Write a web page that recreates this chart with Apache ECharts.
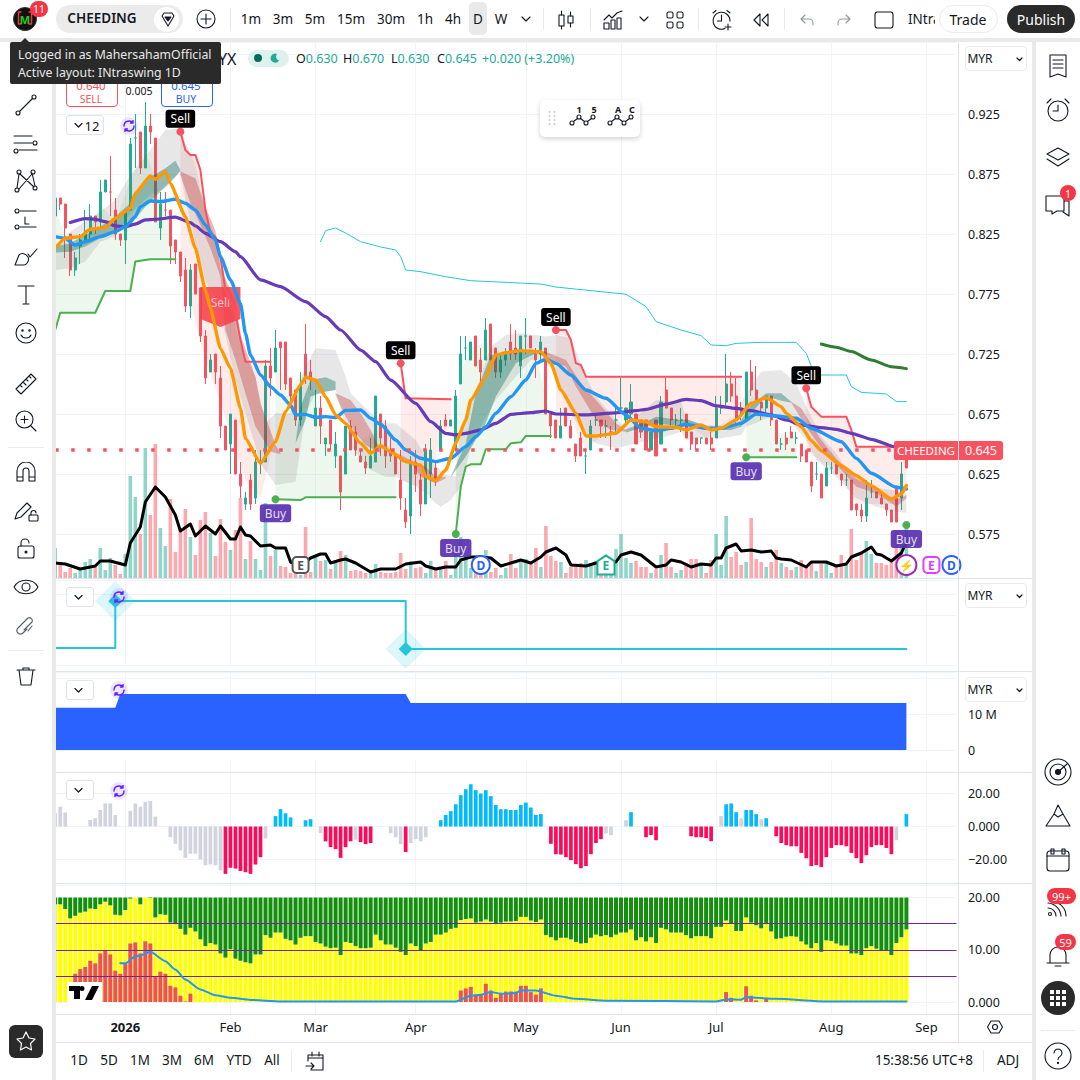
<!DOCTYPE html>
<html><head><meta charset="utf-8">
<script src="https://cdn.jsdelivr.net/npm/echarts@6/dist/echarts.min.js"></script>
<style>
html,body{margin:0;padding:0;width:1080px;height:1080px;overflow:hidden;background:#fff;font-family:'Noto Sans',sans-serif;color:#131722}
#c{position:absolute;left:0;top:0;width:1080px;height:1080px}
#ui{position:absolute;left:0;top:0;width:1080px;height:1080px;pointer-events:none}
#ui>*{position:absolute}
#ui svg{display:block}
.t{white-space:nowrap;line-height:1;transform:translate(-50%,-50%)}
.box{box-sizing:border-box}
</style></head><body><div id="c"></div><div id="ui"></div>
<script>
// ---------- DATA ----------
const tickIndex=[14,35,52,72,94,113,132,155,174];
const tickLabel=['2026','Feb','Mar','Apr','May','Jun','Jul','Aug','Sep'];
const slotCount=181;
const lastPrice=0.645;
// open, high, low, close
const ohlc=[[.84,.855,.84,.855],[.855,.855,.845,.85],[.85,.85,.805,.83],[.825,.825,.79,.795],[.795,.81,.79,.805],[.815,.825,.80,.82],[.82,.845,.82,.825],[.825,.85,.82,.84],[.84,.84,.825,.835],[.835,.87,.83,.86],
[.86,.87,.86,.87],[.86,.89,.84,.86],[.845,.855,.82,.825],[.825,.825,.815,.82],[.82,.845,.80,.845],[.845,.905,.845,.90],[.905,.925,.88,.905],[.91,.91,.875,.88],[.88,.935,.88,.915],[.915,.925,.90,.91],
[.905,.905,.835,.835],[.83,.86,.82,.85],[.845,.86,.84,.845],[.845,.845,.80,.815],[.82,.82,.80,.81],[.81,.81,.785,.79],[.795,.805,.76,.765],[.765,.80,.755,.795],[.80,.80,.775,.775],[.78,.78,.735,.74],
[.74,.745,.70,.705],[.71,.725,.71,.72],[.725,.725,.70,.71],[.705,.715,.655,.665],[.665,.665,.645,.645],[.65,.675,.625,.675],[.67,.67,.625,.625],[.625,.635,.605,.615],[.60,.61,.595,.605],[.62,.625,.595,.60],
[.605,.645,.60,.635],[.635,.645,.625,.635],[.635,.72,.635,.715],[.715,.73,.69,.705],[.71,.745,.71,.73],[.735,.735,.695,.73],[.735,.735,.695,.70],[.705,.705,.68,.69],[.695,.695,.665,.67],[.67,.71,.665,.70],
[.725,.75,.70,.705],[.71,.72,.695,.705],[.665,.695,.665,.68],[.68,.69,.65,.665],[.65,.655,.64,.655],[.67,.67,.645,.65],[.64,.66,.63,.65],[.64,.64,.595,.61],[.625,.665,.625,.665],[.665,.67,.645,.645],
[.66,.665,.64,.645],[.64,.645,.635,.635],[.635,.64,.625,.63],[.63,.655,.63,.64],[.635,.69,.635,.69],[.675,.675,.64,.655],[.665,.67,.63,.64],[.645,.655,.635,.64],[.64,.64,.625,.625],[.62,.645,.595,.605],
[.595,.605,.58,.585],[.59,.64,.575,.635],[.635,.645,.61,.625],[.62,.625,.59,.60],[.60,.65,.60,.645],[.625,.655,.605,.645],[.63,.635,.615,.62],[.645,.67,.645,.665],[.67,.675,.665,.665],[.665,.67,.665,.67],
[.645,.695,.645,.69],[.70,.74,.70,.725],[.73,.74,.72,.73],[.72,.735,.72,.735],[.74,.74,.715,.715],[.72,.73,.70,.71],[.72,.755,.72,.745],[.75,.75,.72,.72],[.73,.73,.705,.71],[.71,.725,.705,.72],
[.72,.73,.715,.725],[.735,.75,.72,.725],[.73,.745,.72,.725],[.715,.74,.705,.74],[.74,.755,.725,.74],[.74,.74,.73,.73],[.725,.73,.705,.72],[.725,.74,.72,.735],[.73,.73,.675,.675],[.675,.675,.655,.665],
[.67,.67,.655,.655],[.655,.68,.655,.665],[.68,.68,.665,.665],[.665,.67,.655,.655],[.65,.65,.635,.64],[.655,.66,.64,.64],[.64,.645,.625,.64],[.645,.67,.645,.665],[.67,.675,.665,.67],[.67,.67,.655,.665],
[.665,.67,.655,.665],[.66,.665,.645,.66],[.67,.68,.66,.67],[.68,.705,.675,.68],[.67,.68,.665,.68],[.675,.70,.67,.685],[.675,.675,.65,.65],[.67,.67,.655,.66],[.67,.67,.645,.645],[.645,.66,.645,.66],
[.67,.67,.64,.64],[.65,.69,.65,.685],[.695,.705,.68,.68],[.68,.68,.665,.67],[.67,.675,.665,.67],[.67,.68,.66,.67],[.675,.675,.655,.655],[.66,.66,.645,.65],[.655,.655,.645,.65],[.655,.655,.65,.655],
[.655,.655,.65,.65],[.655,.66,.645,.65],[.655,.69,.655,.68],[.68,.69,.675,.68],[.685,.725,.68,.70],[.70,.71,.685,.69],[.69,.705,.665,.67],[.68,.685,.67,.675],[.67,.71,.67,.71],[.71,.72,.69,.695],
[.695,.715,.685,.685],[.685,.685,.67,.68],[.68,.69,.675,.69],[.69,.69,.665,.67],[.67,.67,.65,.65],[.65,.655,.645,.65],[.655,.66,.645,.65],[.66,.665,.655,.655],[.655,.66,.65,.655],[.65,.65,.635,.64],
[.645,.645,.635,.635],[.635,.635,.61,.615],[.625,.635,.62,.625],[.625,.625,.605,.605],[.615,.635,.615,.63],[.63,.635,.625,.63],[.635,.635,.625,.625],[.625,.625,.615,.62],[.62,.625,.615,.62],[.62,.62,.595,.595],
[.60,.60,.59,.595],[.595,.60,.585,.59],[.59,.62,.585,.605],[.61,.62,.605,.61],[.61,.61,.605,.605],[.605,.61,.60,.60],[.60,.60,.59,.595],[.595,.595,.585,.585],[.615,.615,.585,.585],[.605,.635,.595,.625],[.63,.645,.63,.645]];
const lastWick=[.645,.67];
const volume=[30,14,6,10,5,10,16,19,11,30,8,20,13,4,24,102,81,44,130,63,134,50,32,79,26,48,69,41,23,58,66,45,22,59,36,28,48,80,19,37,19,8,75,22,28,12,11,5,6,3,51,6,21,17,18,9,15,27,23,7,8,7,5,8,14,
6,5,5,6,25,9,17,10,11,5,17,10,11,17,3,30,41,21,10,11,11,28,6,10,3,10,24,10,19,19,15,30,11,52,22,17,16,5,11,11,15,18,12,17,13,5,8,29,44,20,15,17,11,11,5,9,23,35,11,5,
8,15,19,19,14,5,18,44,13,62,21,26,13,16,60,19,16,11,16,28,15,11,8,11,18,11,15,7,14,17,5,11,23,13,49,18,24,37,24,15,15,13,16,46,35,56];
const blackLine=[[0,15],[2,14],[5,9],[8,12],[9,17],[11,17],[14,13],[15,35],[17,51],[18,76],[20,91],[22,81],[24,63],[25,47],[27,54],[28,42],[30,52],[32,44],[33,52],[35,39],[36,39],[37,51],[38,43],[39,42],[41,32],[43,33],[44,30],[46,30],[47,16],[49,12],[51,20],[53,24],[54,24],[55,15],[57,18],[58,19],[59,17],[60,15],[63,6],[65,9],[68,9],[70,14],[73,16],[74,12],[76,9],[78,11],[80,11],[81,18],[83,21],[85,21],[87,20],[89,12],[91,15],[93,18],[95,15],[97,21],[98,26],[100,30],[102,23],[103,13],[106,12],[108,15],[112,16],[113,23],[115,26],[117,23],[119,15],[120,11],[122,13],[123,18],[125,16],[127,11],[129,14],[131,13],[132,20],[133,20],[134,30],[136,34],[137,27],[139,28],[141,26],[143,27],[144,20],[145,19],[147,18],[150,11],[151,16],[154,16],[156,12],[158,14],[159,21],[161,25],[163,31],[164,24],[165,23],[167,17],[169,25],[170,36]];
const purpleLine=[[3,.8345],[6,.8378],[8,.8373],[10,.8353],[12,.8317],[14,.8311],[16,.8333],[18,.8367],[20,.8373],[24,.839],[27,.8345],[28,.8317],[30,.8256],[33,.8186],[36,.8103],[37,.8061],[41,.7867],[45,.7811],[50,.7686],[54,.7561],[57,.745],[61,.7283],[64,.7186],[67,.7033],[72,.6839],[75,.6686],[78,.6589],[80,.6575],[82,.6589],[85,.6617],[88,.6672],[91,.6747],[95,.6761],[98,.6775],[100,.675],[106,.6742],[112,.676],[116,.6778],[118,.6789],[122,.6833],[126,.6872],[129,.6861],[132,.6817],[136,.6797],[139,.6778],[143,.6742],[146,.67],[149,.6658],[153,.6636],[156,.6622],[159,.6589],[163,.6539],[168,.6472],[170,.645]];
const blueLine=[[0,.8228],[2,.8214],[4,.8158],[6,.8186],[9,.8228],[12,.827],[14,.8311],[16,.8394],[17,.8478],[19,.8525],[21,.852],[24,.8539],[26,.8506],[28,.845],[30,.8325],[32,.82],[33,.8061],[35,.7867],[37,.7672],[38,.7422],[39,.7242],[41,.7075],[43,.6978],[45,.6908],[47,.6825],[48,.6742],[50,.6747],[52,.6722],[54,.6728],[56,.672],[58,.678],[61,.6783],[63,.6714],[65,.6665],[68,.6533],[70,.645],[73,.6381],[76,.6353],[79,.6381],[82,.6478],[84,.6561],[86,.6644],[88,.6756],[91,.6894],[94,.7033],[96,.7172],[98,.7206],[100,.7172],[103,.7075],[106,.695],[110,.6881],[114,.6742],[117,.6631],[120,.6611],[123,.6631],[126,.6664],[130,.6631],[133,.6631],[137,.6672],[140,.675],[144,.6733],[148,.6714],[151,.6631],[157,.6519],[160,.638],[163,.6256],[168,.6139],[170,.6125]];
const orangeLine=[[0,.8131],[2,.8214],[5,.8228],[7,.8289],[10,.8303],[12,.8381],[15,.8464],[16,.8589],[19,.8734],[20,.8706],[22,.877],[23,.8672],[26,.8394],[28,.8131],[30,.7783],[31,.7631],[33,.7297],[35,.7131],[37,.6797],[38,.6547],[41,.6339],[44,.652],[46,.6769],[49,.6992],[50,.7056],[52,.7033],[54,.6894],[56,.6742],[58,.6672],[61,.6506],[63,.6422],[65,.6486],[67,.6436],[70,.6353],[73,.6325],[74,.6228],[76,.6195],[78,.6283],[80,.6506],[82,.67],[83,.6867],[86,.7061],[88,.7242],[90,.7261],[93,.7278],[97,.7269],[99,.7172],[101,.695],[104,.6756],[106,.6567],[108,.6567],[112,.6589],[115,.67],[118,.6686],[120,.6644],[124,.6639],[126,.6617],[129,.6658],[131,.6617],[133,.6631],[136,.67],[139,.6839],[142,.6886],[145,.6811],[146,.6756],[149,.6644],[151,.6528],[153,.6444],[157,.6319],[160,.6236],[163,.6153],[167,.6042],[169,.6083],[170,.6153]];
const cyanLine=[[53,.8186],[54,.8278],[56,.83],[58,.8258],[61,.8186],[65,.8142],[68,.8117],[69,.8061],[70,.795],[73,.7936],[78,.7894],[83,.7861],[97,.7833],[100,.7808],[114,.7748],[118,.7645],[120,.752],[125,.745],[129,.7403],[131,.7325],[134,.7319],[136,.7339],[141,.7347],[148,.7347],[150,.7256],[151,.715],[152,.7075],[158,.7075],[159,.6978],[161,.693],[166,.6917],[168,.6853],[170,.6853]];
const darkGreenLine=[[153,.7333],[156,.7306],[159,.727],[163,.72],[167,.7144],[170,.7128]];
const stGreen1=[[0,.745],[1,.7594],[8,.7594],[10,.7775],[15,.7775],[16,.802],[19,.804],[24,.804]];
const stGreen2=[[44,.604],[49,.6033],[50,.6056],[68,.6056]];
const stGreen3=[[80,.575],[81,.6144],[82,.6311],[83,.6331],[85,.6331],[86,.6456],[90,.6456],[91,.6506],[93,.6514],[94,.6567],[99,.6567]];
const stGreen4=[[138,.6389],[148,.6389]];
const greenTop1=[[0,.845],[3,.815],[6,.82],[9,.85],[12,.835],[15,.87],[18,.895],[20,.87],[23,.83],[24,.81]];
const greenTop2=[[44,.72],[47,.695],[50,.715],[53,.675],[56,.645],[58,.645],[60,.65],[64,.66],[68,.64]];
const greenTop3=[[80,.665],[81,.71],[83,.73],[86,.735],[90,.72],[93,.73],[96,.725],[99,.67]];
const greenTop4=[[138,.675],[139,.69],[141,.685],[144,.66],[148,.655]];
const stRed1=[[25,.9103],[26,.895],[27,.8909],[28,.8909],[29,.8783],[30,.845],[31,.8256],[32,.8228],[33,.806],[34,.7783],[36,.759],[37,.7367],[38,.7186],[43,.7186]];
const stRed2=[[69,.7172],[70,.6881],[79,.6872]];
const stRed3=[[100,.745],[102,.745],[103,.7367],[104,.7172],[105,.7158],[106,.7061],[137,.7061]];
const stRed4=[[150,.6964],[151,.6811],[153,.6728],[158,.6728],[159,.6617],[160,.6478],[167,.6478],[170,.6478]];
const redLow1=[[25,.80],[30,.72],[35,.66],[38,.62],[41,.605],[43,.64]];
const redLow2=[[69,.62],[72,.615],[75,.625],[77,.655],[79,.665]];
const redLow3=[[100,.66],[103,.67],[106,.645],[110,.66],[114,.675],[120,.655],[125,.67],[130,.655],[133,.665],[137,.68]];
const redLow4=[[150,.645],[153,.635],[156,.63],[160,.60],[165,.60],[168,.60],[170,.615]];
const grayHigh=[[0,.8145],[3,.827],[6,.8353],[9,.8436],[12,.8533],[15,.8742],[18,.8895],[22,.9117],[25,.9131],[26,.9006],[28,.8839],[30,.8422],[32,.8228],[34,.7895],[35,.7659],[37,.7311],[40,.7061],[42,.6672],[44,.6756],[47,.6756],[50,.7145],[52,.7298],[56,.7284],[58,.7061],[59,.6923],[63,.6756],[66,.6672],[68,.6672],[72,.6534],[74,.6395],[78,.6242],[80,.6228],[81,.6645],[84,.695],[87,.7311],[90,.7409],[93,.7423],[98,.7395],[100,.7409],[103,.7381],[106,.7061],[108,.6895],[112,.67],[114,.6645],[116,.6728],[120,.6867],[125,.6853],[126,.6714],[129,.6658],[133,.6658],[136,.6756],[138,.6922],[141,.7103],[145,.7117],[148,.7006],[150,.6811],[153,.6561],[156,.6422],[159,.6228],[163,.6144],[167,.6117],[170,.6089]];
const grayLow=[[0,.795],[3,.7964],[6,.802],[9,.8186],[12,.8228],[15,.8422],[19,.8575],[22,.8631],[25,.877],[26,.8534],[28,.8173],[30,.7867],[33,.7589],[36,.7034],[38,.6756],[41,.6339],[44,.6159],[48,.6186],[49,.6478],[50,.6756],[52,.6923],[56,.695],[59,.6478],[63,.6284],[66,.6228],[68,.6228],[72,.6145],[74,.6089],[76,.6006],[77,.5978],[79,.6034],[81,.6145],[83,.6478],[85,.6645],[88,.6867],[92,.7061],[95,.72],[98,.72],[100,.7061],[103,.6756],[106,.6562],[108,.6506],[112,.6464],[116,.6506],[122,.6562],[125,.6603],[126,.6533],[129,.6547],[133,.6547],[137,.6575],[138,.6644],[143,.6728],[146,.6728],[150,.6533],[152,.6367],[156,.6228],[160,.6047],[164,.5978],[168,.5936],[170,.5928]];
const tealHigh1=[[0,.8145],[3,.8173],[6,.8242],[9,.8311],[12,.8395],[15,.8506],[18,.87],[22,.8798],[24,.8861],[25,.8784]];
const tealLow1=[[0,.8095],[3,.8103],[6,.8145],[9,.8214],[12,.8256],[15,.8325],[18,.8478],[22,.8645],[24,.8728],[25,.8778]];
const tealHigh2=[[45,.6423],[48,.6506],[49,.6811],[51,.7034],[54,.7056],[56,.702]];
const tealLow2=[[45,.6423],[48,.6506],[50,.67],[51,.6895],[54,.6936],[56,.695]];
const tealHigh3=[[79,.6228],[82,.6506],[84,.6923],[87,.7242],[90,.725],[94,.7278],[98,.7269]];
const tealLow3=[[79,.6222],[82,.6395],[86,.6672],[88,.6895],[90,.7034],[92,.7172],[96,.7256],[98,.7228]];
const tealHigh4=[[114,.6622],[118,.6686],[120,.6728],[125,.67],[126,.6706],[129,.6667],[131,.6622],[135,.6644],[137,.67],[139,.6825],[142,.6922],[145,.6922],[147,.6853]];
const tealLow4=[[114,.6595],[118,.6645],[120,.6672],[125,.6645],[126,.6644],[129,.6622],[131,.6617],[135,.6617],[137,.6644],[139,.6756],[142,.69],[145,.6861],[147,.6844]];
const redHigh1=[[25,.877],[28,.8714],[30,.8478],[32,.8278],[33,.7967],[36,.7689],[37,.7411],[40,.7058],[41,.6836],[43,.6611],[44,.6492],[45,.6423]];
const redLow1b=[[25,.8742],[27,.8506],[29,.8325],[31,.8131],[33,.7895],[34,.745],[36,.72],[38,.6922],[40,.6645],[42,.6506],[43,.6436],[45,.6417]];
const redHigh2=[[56,.6923],[59,.6867],[61,.6756],[63,.6617],[65,.6451]];
const redLow2b=[[56,.691],[58,.6728],[60,.6589],[62,.6492],[65,.6423]];
const redHigh3=[[67,.645],[71,.6367],[74,.6311],[76,.6228],[78,.6228]];
const redLow3b=[[67,.6428],[71,.6345],[73,.6228],[76,.6172],[78,.6214]];
const redHigh4=[[98,.7269],[102,.72],[105,.7006],[108,.6867],[112,.6672],[114,.6617]];
const redLow4b=[[98,.72],[102,.7145],[104,.6978],[106,.6839],[108,.67],[111,.6617],[114,.6603]];
const redHigh5=[[147,.6853],[149,.6797],[153,.6533],[156,.638],[160,.6214],[164,.613],[168,.6033],[170,.6075]];
const redLow5b=[[147,.6844],[150,.6644],[153,.6464],[157,.6283],[160,.6144],[164,.6089],[168,.5978],[170,.6047]];
const sellMarks=[[25,.9103],[69,.7172],[100,.745],[150,.6964]];
const buyMarks=[[44,.604],[80,.575],[138,.6389],[170,.5825]];
const bigSellMark=[[33,.7642]];
const earningsGrey=[[49,13]];
const earningsGreen=[[110,13]];
const dividendBlue=[[85,13],[179,13]];
const earningsPink=[[175,13]];
const splitPurple=[[170,13]];
const stepLine=[[0,.34],[12,.34],[12,1.28],[70,1.28],[70,.32],[170,.32]];
const stepDiamonds=[[12,1.28],[70,.32]];
const blueArea=[[0,11.75],[12,11.75],[13,15.55],[70,15.55],[71,13.05],[170,13.05]];
const histGrey=[[0,8],[1,12],[2,8.5],[7,4],[8,5],[9,10],[10,14],[11,14],[12,7],[15,9.5],[16,14],[17,12],[18,15],[19,15.5],[20,6],[23,-6.5],[24,-10.5],[25,-14.5],[26,-19],[27,-16.5],[28,-16.5],[29,-20],[30,-23.5],[31,-23],[32,-23.5],[33,-26.5],[42,-7.3],[53,-4],[60,-8],[67,-4],[68,-6.5],[69,-10.7],[71,-10],[72,-7.7],[73,-9],[74,-6.5],[110,-4.2],[111,-5.2],[114,3.8],[133,6.3],[137,5],[141,4.4],[168,-8.3]];
const histBlue=[[44,6.3],[45,10.5],[46,8],[47,5.5],[50,3.8],[51,4.4],[77,3.8],[78,7],[79,9.3],[80,13.5],[81,19],[82,22.6],[83,25.6],[84,22],[85,20],[86,22],[87,18.4],[88,13],[89,10.5],[90,10.5],[91,10],[92,10],[93,13],[94,14.5],[95,11.5],[96,7],[97,7.5],[115,8.7],[134,13.5],[135,14],[136,8.7],[138,10],[139,10],[140,7.5],[142,5],[170,7.5]];
const histPink=[[34,-28.7],[35,-25],[36,-25.5],[37,-27],[38,-27.7],[39,-28.7],[40,-23],[41,-18.6],[54,-9],[55,-12.5],[56,-13.7],[57,-19],[58,-12.5],[59,-9],[61,-9.5],[62,-10.7],[63,-10],[70,-15.5],[99,-10.5],[100,-16.8],[101,-17],[102,-18.6],[103,-20.4],[104,-22.8],[105,-25.3],[106,-24],[107,-16.8],[108,-10],[109,-7.7],[118,-6.5],[119,-5.2],[120,-8.3],[127,-5.9],[128,-6.5],[129,-6.5],[130,-7],[131,-8.9],[144,-5.9],[145,-10],[146,-11.3],[147,-12],[148,-12],[149,-16],[150,-19.2],[151,-24],[152,-23.4],[153,-24.6],[154,-18.6],[155,-13],[156,-11.3],[157,-11.3],[158,-12],[159,-16],[160,-19.2],[161,-22.2],[162,-17.4],[163,-12.5],[164,-11.3],[165,-11.3],[166,-13],[167,-16.8]];
const stackTop=20;
const yellowBars=[18.7,18.7,17.8,16.0,16.5,17.1,17.3,17.9,17.8,18.7,19.2,18.5,16.7,16.6,17.6,19.8,20.0,18.7,20.0,19.9,16.2,16.8,16.7,15.2,14.9,14.0,12.9,14.2,13.5,12.0,10.7,11.3,11.0,9.3,8.5,10.1,8.3,7.9,7.6,7.4,9.1,9.1,12.8,12.3,13.3,13.3,12.1,11.8,11.0,12.3,12.6,12.6,11.5,11.2,10.6,10.3,10.4,9.0,11.5,11.3,10.7,10.3,10.3,10.4,12.9,11.8,11.0,11.0,10.4,9.6,9.0,11.2,10.7,9.9,11.2,11.5,12.9,12.9,13.3,14.0,14.2,15.7,15.9,16.0,15.2,15.4,15.8,15.4,14.9,15.2,15.4,15.4,15.5,16.3,16.3,15.6,15.3,15.8,12.8,12.4,11.8,12.3,12.3,12.0,11.5,11.2,11.3,12.3,12.9,12.6,12.8,12.4,12.9,13.3,13.3,13.9,11.8,12.4,11.6,12.4,11.3,14.2,13.9,13.3,13.3,13.3,12.8,12.2,12.6,12.6,12.6,12.2,14.4,14.4,15.6,15.0,13.6,13.6,16.2,15.2,14.7,14.1,14.9,13.5,12.1,12.2,12.5,12.6,12.5,11.6,11.0,10.3,11.3,9.6,11.8,11.7,11.2,10.8,10.8,9.3,9.3,9.0,10.3,10.7,10.2,9.9,9.9,9.0,11.3,12.4,13.9];
const redBars=[[4,5.4],[5,6.3],[6,6.7],[7,7.9],[8,7.4],[9,9.3],[10,9.9],[11,9.1],[12,6.0],[13,5.4],[14,7.4],[15,11.2],[16,11.4],[17,9.3],[18,11.6],[19,11.2],[20,4.9],[21,5.8],[22,5.4],[23,3.1],[24,2.8],[25,1.2],[26,.1],[27,1.6],[81,2.2],[82,2.6],[83,2.9],[84,1.4],[85,1.5],[86,3.5],[87,2.2],[88,.8],[89,1.6],[90,2.0],[91,2.0],[92,2.0],[93,3.1],[94,3.1],[95,1.9],[96,1.4],[97,2.6],[134,1.9],[135,.8],[138,3.0],[139,1.2],[140,.3],[142,.6]];
const stackBlueLine=[[13,7.4],[14,7.4],[16,8.7],[17,8.9],[19,9.6],[22,7.8],[24,6.2],[26,4.3],[29,2.4],[32,1.3],[35,.8],[39,.4],[45,.1],[80,.1],[83,1.2],[85,1.4],[87,1.9],[89,1.6],[92,1.7],[93,2.2],[96,2.2],[100,1.2],[104,.6],[110,.25],[132,.1],[134,.5],[137,.45],[138,.9],[144,.6],[154,.1],[170,.1]];
const stackLevels=[5,10,15];

// ---------- CHART ----------
const categories=Array.from({length:slotCount},(_,i)=>'d'+i);
const UP='#22ab94',DOWN='#f7525f';
const FONT="'Noto Sans',sans-serif";
const isTick=i=>tickIndex.includes(i);
const GL='#f0f3fa';
const L=55.2,W=180*5.007;
const panes=[[42,594],[580,665],[672,750],[760.5,892.5],[885,1002],[1002,1014]];
const grid=panes.map(p=>({left:L,width:W,top:p[0],height:p[1]-p[0],containLabel:false}));
const xAxis=panes.map((p,k)=>({type:'category',gridIndex:k,data:categories,boundaryGap:false,axisLine:{show:false},axisTick:{show:false},
 splitLine:{show:true,interval:i=>isTick(i),lineStyle:{color:GL,width:1}},
 axisLabel:k===5?{show:true,interval:i=>isTick(i),margin:6,color:'#131722',fontFamily:FONT,fontSize:13,showMinLabel:true,showMaxLabel:true,hideOverlap:false,
   formatter:(v,i)=>{const n=tickIndex.indexOf(i);return n<0?'':(n===0?'{b|'+tickLabel[n]+'}':tickLabel[n]);},rich:{b:{fontWeight:700,fontSize:13,fontFamily:FONT,color:'#131722'}}}:{show:false}}));
const yBase={position:'right',axisLine:{show:false},axisTick:{show:false},scale:false};
const lab=(f)=>({show:true,margin:11.5,color:'#131722',fontFamily:FONT,fontSize:12.5,formatter:f});
const split={show:true,lineStyle:{color:GL,width:1},showMinLine:false,showMaxLine:false};
const yAxis=[
 {...yBase,type:'value',gridIndex:0,min:.525,max:.985,interval:.05,axisLabel:lab(v=>(v<.53||v>.97)?'':v.toFixed(3)),splitLine:{show:true,lineStyle:{color:GL}}},
 {...yBase,type:'value',gridIndex:0,min:-16,max:536,show:false},
 {...yBase,type:'value',gridIndex:1,min:0,max:1.7,interval:1,axisLabel:{show:false},splitLine:{show:true,lineStyle:{color:GL}}},
 {...yBase,type:'value',gridIndex:2,min:0,max:21.67,interval:10,axisLabel:lab(v=>v===0?'0':(v===10?'10 M':'')),splitLine:{show:true,lineStyle:{color:GL}}},
 {...yBase,type:'value',gridIndex:3,min:-40,max:40,interval:20,axisLabel:lab(v=>v===0?'0.000':(Math.abs(v)===20?(v<0?'\u2212':'')+'20.00':'')),splitLine:split},
 {...yBase,type:'value',gridIndex:4,min:0,max:22.4,interval:10,axisLabel:lab(v=>v===0?'0.000':(v<=20?v.toFixed(2):'')),splitLine:{show:true,lineStyle:{color:GL}}},
 {...yBase,type:'value',gridIndex:5,min:0,max:1,show:false}
];
function poly(hi,lo,fill,z){const pts=[...hi,...lo.slice().reverse()];
 return {type:'custom',xAxisIndex:0,yAxisIndex:0,z,silent:true,clip:true,data:pts,encode:{x:0,y:1},animation:false,
  renderItem:(p,api)=>p.dataIndex===0?{type:'polygon',shape:{points:pts.map(d=>api.coord(d))},style:{fill}}:null};}
function line(data,color,width,z,smooth,ax,ay){return {type:'line',xAxisIndex:ax||0,yAxisIndex:ay||0,data,showSymbol:false,symbol:'none',smooth:smooth||false,smoothMonotone:'x',z,silent:true,animation:false,lineStyle:{color,width,cap:'round',join:'round'}};}
function badge(data,text,color,symbol,size,fill,txt){return {type:'scatter',xAxisIndex:0,yAxisIndex:1,data,symbol,symbolSize:size,z:9,silent:true,animation:false,clip:false,itemStyle:{color:fill,borderColor:color,borderWidth:2,opacity:1},
  label:{show:true,position:'inside',formatter:text,color:txt||color,fontFamily:FONT,fontWeight:700,fontSize:12}};}
const hex='path://M10 0 L20 6 L20 20 L0 20 L0 6 Z';
const candles=ohlc.map((r,i)=>{const v=[r[0],r[3],r[2],r[1]];return i===ohlc.length-1?{value:v,itemStyle:{color:DOWN,borderColor:DOWN}}:v;});
const volData=volume.map((v,i)=>({value:v,itemStyle:{color:(ohlc[i][3]>=ohlc[i][0]?'rgba(34,171,148,.5)':'rgba(247,82,95,.5)')}}));
const GF='rgba(76,175,80,.1)',RF='rgba(244,67,54,.1)',GR='rgba(110,115,115,.17)',TE='rgba(0,105,92,.36)',RE='rgba(190,40,40,.33)';
const series=[
 {type:'bar',xAxisIndex:0,yAxisIndex:1,data:volData,barWidth:3.6,z:1,silent:true,animation:false},
 {type:'candlestick',xAxisIndex:0,yAxisIndex:0,data:candles,barWidth:2.6,z:2,silent:true,animation:false,
  itemStyle:{color:UP,color0:DOWN,borderColor:UP,borderColor0:DOWN,borderWidth:1},
  markLine:{silent:true,symbol:'none',animation:false,precision:4,z:8,label:{show:false},lineStyle:{color:DOWN,width:3.5,type:[3.5,12.5],opacity:1},data:[{yAxis:lastPrice}]}},
 {type:'candlestick',xAxisIndex:0,yAxisIndex:0,data:[[170,lastWick[0],lastWick[0],lastWick[0],lastWick[1]]],barWidth:1,z:2,silent:true,animation:false,itemStyle:{color:UP,color0:UP,borderColor:UP,borderColor0:UP,borderWidth:1}},
 poly(greenTop1,stGreen1,GF,3),poly(greenTop2,stGreen2,GF,3),poly(greenTop3,stGreen3,GF,3),poly(greenTop4,stGreen4,GF,3),
 poly(stRed1,redLow1,RF,3),poly(stRed2,redLow2,RF,3),poly(stRed3,redLow3,RF,3),poly(stRed4,redLow4,RF,3),
 poly(grayHigh,grayLow,GR,3),
 poly(tealHigh1,tealLow1,TE,3),poly(tealHigh2,tealLow2,TE,3),poly(tealHigh3,tealLow3,TE,3),poly(tealHigh4,tealLow4,TE,3),
 poly(redHigh1,redLow1b,RE,3),poly(redHigh2,redLow2b,RE,3),poly(redHigh3,redLow3b,RE,3),poly(redHigh4,redLow4b,RE,3),poly(redHigh5,redLow5b,RE,3),
 {type:'scatter',xAxisIndex:0,yAxisIndex:0,data:bigSellMark,symbol:'path://M0 0 H40 V32 L20 40 L0 32 Z',symbolSize:[40,40],z:4,silent:true,animation:false,itemStyle:{color:'rgba(247,60,70,.85)',opacity:1},
   label:{show:true,position:'inside',offset:[0,-4],formatter:'Sell',color:'rgba(255,255,255,.65)',fontFamily:FONT,fontSize:12}},
 line(stGreen1,'#4caf50',2,5),line(stGreen2,'#4caf50',2,5),line(stGreen3,'#4caf50',2,5),line(stGreen4,'#4caf50',2,5),
 line(stRed1,'#f7525f',2,5),line(stRed2,'#f7525f',2,5),line(stRed3,'#f7525f',2,5),line(stRed4,'#f7525f',2,5),
 line(cyanLine,'#26c6da',1,6),line(darkGreenLine,'#2e7d32',3,6,.2),
 line(purpleLine,'#673ab7',3.2,6,.2),line(blueLine,'#2196f3',3.4,7,.2),line(orangeLine,'#ff9800',3.4,7,.15),
 line(blackLine,'#000000',3,8,false,0,1),
 {type:'scatter',xAxisIndex:0,yAxisIndex:0,data:sellMarks,symbol:'circle',symbolSize:8,z:10,silent:true,animation:false,itemStyle:{color:'#f7525f',opacity:1},
   label:{show:true,position:'top',distance:0,formatter:'Sell',color:'#fff',backgroundColor:'#000',padding:[3,5,3,5],borderRadius:3,fontFamily:FONT,fontSize:12}},
 {type:'scatter',xAxisIndex:0,yAxisIndex:0,data:buyMarks,symbol:'circle',symbolSize:8,z:10,silent:true,animation:false,itemStyle:{color:'#4caf50',opacity:1},
   label:{show:true,position:'bottom',distance:1,formatter:'Buy',color:'rgba(255,255,255,.85)',backgroundColor:'rgba(89,48,176,.92)',padding:[3,5,3,5],borderRadius:3,fontFamily:FONT,fontSize:12}},
 badge(earningsGrey,'E','#555555','roundRect',[16,16],'#fff'),
 badge(earningsGreen,'E','#22ab94',hex,[17,19],'#fff'),
 badge(dividendBlue,'D','#2962ff','circle',18,'#fff'),
 badge(earningsPink,'E','#e040fb','roundRect',[16,16],'#fff'),
 badge(splitPurple,'\u26A1','#9c27b0','circle',20,'#fff'),
 // step pane
 {type:'scatter',xAxisIndex:1,yAxisIndex:2,data:stepDiamonds,symbol:'diamond',symbolSize:40,z:2,silent:true,animation:false,clip:false,itemStyle:{color:'rgba(38,198,218,.16)',opacity:1}},
 line(stepLine,'#26c6da',2,3,false,1,2),
 {type:'scatter',xAxisIndex:1,yAxisIndex:2,data:stepDiamonds,symbol:'diamond',symbolSize:14,z:4,silent:true,animation:false,clip:false,itemStyle:{color:'#26c6da',opacity:1}},
 // blue area pane
 {type:'line',xAxisIndex:2,yAxisIndex:3,data:blueArea,showSymbol:false,symbol:'none',lineStyle:{width:0},areaStyle:{color:'#2962ff',opacity:1},z:2,silent:true,animation:false},
 // histogram pane
 {type:'bar',xAxisIndex:3,yAxisIndex:4,data:histGrey,barWidth:3.7,barGap:'-100%',itemStyle:{color:'#d1d4dc'},z:2,silent:true,animation:false},
 {type:'bar',xAxisIndex:3,yAxisIndex:4,data:histBlue,barWidth:3.7,barGap:'-100%',itemStyle:{color:'#00bcff'},z:2,silent:true,animation:false},
 {type:'bar',xAxisIndex:3,yAxisIndex:4,data:histPink,barWidth:3.7,barGap:'-100%',itemStyle:{color:'#ff0a5a'},z:2,silent:true,animation:false},
 // stacked pane: yellow from zero, green stacked from the yellow top up to 20, red over the yellow
 {type:'bar',xAxisIndex:4,yAxisIndex:5,stack:'oscillator',data:yellowBars,barWidth:4,itemStyle:{color:'#ffff00'},z:3,silent:true,animation:false},
 {type:'bar',xAxisIndex:4,yAxisIndex:5,stack:'oscillator',data:yellowBars.map(v=>stackTop-v),barWidth:4,itemStyle:{color:'#128f0b'},z:3,silent:true,animation:false},
 {type:'bar',xAxisIndex:4,yAxisIndex:5,data:redBars,barWidth:4,barGap:'-100%',itemStyle:{color:'#ef5350'},z:4,silent:true,animation:false,
  markLine:{silent:true,symbol:'none',animation:false,z:5,label:{show:false},lineStyle:{color:'#7b1fa2',width:1,type:'solid'},data:stackLevels.map(v=>({yAxis:v}))}},
 line(stackBlueLine,'#2196f3',2,6,.2,4,5)
];
const chart=echarts.init(document.getElementById('c'),null,{renderer:'svg',width:1080,height:1080});
chart.setOption({animation:false,backgroundColor:'#ffffff',grid,xAxis,yAxis,series,tooltip:{show:false}});

// ---------- PLATFORM CHROME ----------
const ui=document.getElementById('ui');
function T(x,y,s,o){o=o||{};const e=document.createElement('div');e.className='t';e.textContent=s;e.style.left=x+'px';e.style.top=y+'px';e.style.fontSize=(o.size||13.5)+'px';e.style.color=o.color||'#131722';if(o.weight)e.style.fontWeight=o.weight;if(o.left){e.style.transform='translate(0,-50%)';}ui.appendChild(e);return e;}
function B(x,y,w,h,css){const e=document.createElement('div');e.className='box';e.style.cssText=`left:${x}px;top:${y}px;width:${w}px;height:${h}px;${css||''}`;ui.appendChild(e);return e;}
function S(cx,cy,w,h,inner,sw,col){const e=document.createElement('div');e.style.cssText=`left:${cx-w/2}px;top:${cy-h/2}px;width:${w}px;height:${h}px`;
 e.innerHTML=`<svg xmlns="http://www.w3.org/2000/svg" width="${w}" height="${h}" viewBox="0 0 ${w} ${h}" fill="none" stroke="${col||'#131722'}" stroke-width="${sw||1.1}" stroke-linecap="round" stroke-linejoin="round">${inner}</svg>`;ui.appendChild(e);}
const BG='#e9e9ea';
// frames
B(0,0,1080,38,'background:#fff');B(0,38,1080,4,`background:${BG}`);
B(0,42,52,1038,'background:#fff');B(52,38,4,1042,`background:${BG}`);
B(1036,42,44,1038,'background:#fff');B(1032,38,4,1042,`background:${BG}`);
B(958,42,74,1000,'background:transparent;border-left:1px solid #e0e3eb');
B(56,1042,976,38,'background:#fff;border-top:1px solid #e0e3eb');
[578,670.5,772,883,1014].forEach(y=>B(56,y,976,1,'background:#e0e3eb'));
// top bar
B(13,7,24,24,'border-radius:50%;background:#111;border:1px solid #333');
S(25,18,16,14,'<path d="M4 1H1.500V13H4M12 1h2.500V13H12" stroke="#f23645" stroke-width="1.5"/>');
T(25,18.5,'M',{size:11,weight:700,color:'#1fd11f'});
B(30,1,18,16,'border-radius:9px;background:#f23645');T(39,9,'11',{size:10.5,color:'#fff'});
B(56,5,127,28,'border-radius:14px;background:#ebebeb');T(102,19,'CHEEDING',{size:13.5,weight:600});
B(154,7,25,25,'border-radius:50%;background:#fff');
S(168,19.5,18,16,'<path d="M3 4 L5 1 H13 L15 4 L9 14 Z"/><path d="M6 5h6L9 9Z" fill="#131722"/>');
S(206,19,20,20,'<circle cx="10" cy="10" r="9"/><path d="M10 5v10M5 10h10"/>');
B(230,8,1,22,`background:${BG}`);
B(469,2,18,33,`border-radius:5px;background:${BG}`);
[[251,'1m'],[283,'3m'],[315,'5m'],[351,'15m'],[391,'30m'],[425,'1h'],[453,'4h'],[478,'D'],[501,'W']].forEach(a=>T(a[0],19.5,a[1],{size:13.5}));
S(526,19,10,6,'<path d="M1 1l4 4 4-4"/>');
B(543,8,1,22,`background:${BG}`);
S(566,19.5,18,20,'<rect x="2" y="5" width="5" height="11"/><path d="M4.500 1v4M4.500 16v3"/><rect x="11" y="6" width="5" height="7"/><path d="M13.500 2v4M13.500 13v4"/>');
B(590,8,1,22,`background:${BG}`);
S(613,19.5,20,20,'<path d="M1 10l5-5 3 3 5-5 5-2"/><rect x="1" y="13" width="5" height="6"/><rect x="8" y="10" width="4" height="9"/><rect x="14" y="8" width="4" height="11"/>');
S(644,19,10,6,'<path d="M1 1l4 4 4-4"/>');
S(675,19.5,18,18,'<rect x="1" y="1" width="6" height="6" rx="1.500"/><rect x="11" y="1" width="6" height="6" rx="1.500"/><rect x="1" y="11" width="6" height="6" rx="1.500"/><rect x="11" y="11" width="6" height="6" rx="1.500"/>');
B(698,8,1,22,`background:${BG}`);
S(722,19.5,22,22,'<path d="M14 19.500A8.500 8.500 0 1 1 19 12"/><path d="M10.500 6v6h-4M2 4l3-2.500M19 4l-3-2.500M17 15v6M14 18h6"/>');
S(761,19.5,16,14,'<path d="M7 1L1 7l6 6ZM15 1L9 7l6 6Z"/>');
B(784,8,1,22,`background:${BG}`);
S(807,20,14,12,'<path d="M5 1L1 5l4 4M1 5h8a4 4 0 0 1 4 4v2"/>',1.1,'#9598a1');
S(844,20,14,12,'<path d="M9 1l4 4-4 4M13 5H5a4 4 0 0 0-4 4v2"/>',1.1,'#9598a1');
S(884,19.5,20,18,'<rect x="1" y="1" width="18" height="16" rx="2.500"/>');
const it=T(908,19.5,'INtra',{size:13.5,left:true});it.style.width='27px';it.style.overflow='hidden';
B(939,5,59,28,'border-radius:14px;background:#fff;border:1px solid #ebebeb');T(968,19.5,'Trade',{size:14});
B(1007,5,68,28,'border-radius:14px;background:#2a2a2a');T(1041,19.5,'Publish',{size:14,color:'#fff'});
// legend row
T(218,58.5,'YX',{size:16,left:true});
B(248,50,41,17,'border-radius:9px;background:#dff1ec');
B(254,54,8,8,'border-radius:50%;background:#006d5b');
S(275,58,10,10,'<path d="M7 1a4.500 4.500 0 1 0 2 6.500A4 4 0 0 1 7 1Z" fill="#22ab94" stroke="none"/>');
[[296,'O','0.630'],[343,'H','0.670'],[391,'L','0.630'],[437,'C','0.645']].forEach(a=>{const e=T(a[0],58.5,a[1],{size:12.5,left:true,color:'#131722'});const s=document.createElement('span');s.textContent=a[2];s.style.color='#22ab94';e.appendChild(s);});
T(482,58.5,'+0.020 (+3.20%)',{size:12.5,left:true,color:'#22ab94'});
// order buttons
B(66,80,52,27,'border:1px solid #f7525f;border-radius:4px;background:#fff');T(91,85.5,'0.640',{size:11.5,color:'#f7525f'});T(91,99,'SELL',{size:10.5,color:'#f7525f'});
T(139,90.5,'0.005',{size:10.5});
B(161,80,52,27,'border:1px solid #2962ff;border-radius:4px;background:#fff');T(186,85.5,'0.645',{size:11.5,color:'#2962ff'});T(186,99,'BUY',{size:10.5,color:'#2962ff'});
// login tooltip
B(10,42,211,42,'background:#2a2a2a;border-radius:2px');
T(18,55,'Logged in as MahersahamOfficial',{size:12.3,left:true,color:'#e8e8e8'});
T(18,73,'Active layout: INtraswing 1D',{size:12.3,left:true,color:'#e8e8e8'});
S(25,40,10,5,'<path d="M0 5L5 0l5 5Z" fill="#2a2a2a" stroke="none"/>');
// pane controls
function chev(x,y,w,txt){B(x,y,w,20,'background:#fff;border:1px solid #e0e3eb;border-radius:3px');S(x+12,y+10,9,5,'<path d="M1 .5l3.500 3.500L8 .5"/>',1.2);if(txt)T(x+26,y+10.5,txt,{size:13});}
chev(66,115,38,'12');chev(66,587,28);chev(66,680,28);chev(66,780,28);
function refresh(x,y){B(x-9,y-9,18,18,'border-radius:50%;background:rgba(124,77,255,.14)');S(x,y,12,12,'<path d="M1 6a5 5 0 0 1 9-3M11 6a5 5 0 0 1-9 3M10 .5V3H7.500M2 11.500V9h2.500"/>',1.4,'#651fff');}
refresh(128.5,126);refresh(118.5,597);refresh(119,690);refresh(119,790.5);
// currency selectors
function myr(y){B(965,y,62,25,'background:#fff;border:1px solid #ebebeb;border-radius:4px');T(968+12,y+13,'MYR',{size:12});S(1019,y+13,7,5,'<path d="M1 1l2.500 2.500L6 1"/>',1.2);}
myr(46);myr(583);myr(677);
// price tag
B(894,441,64,19,'background:#f7525f;border-radius:2px 0 0 2px');T(926,450.5,'CHEEDING',{size:11.5,color:'#fff'});
B(958.5,441,44,19,'background:#f7525f;border-radius:0 3px 3px 0');T(981,450.5,'0.645',{size:12.5,color:'#fff'});
// drawing float card
B(540,100,100,37,'background:#fff;border-radius:5px;box-shadow:0 2px 5px rgba(0,0,0,.18)');
S(552,118,8,16,'<g fill="#c8cad0" stroke="none"><circle cx="1.500" cy="2" r="1"/><circle cx="6.500" cy="2" r="1"/><circle cx="1.500" cy="6" r="1"/><circle cx="6.500" cy="6" r="1"/><circle cx="1.500" cy="10" r="1"/><circle cx="6.500" cy="10" r="1"/><circle cx="1.500" cy="14" r="1"/><circle cx="6.500" cy="14" r="1"/></g>');
const wave='<circle cx="3" cy="12" r="2"/><circle cx="10" cy="6" r="2"/><circle cx="17" cy="12" r="2"/><circle cx="24" cy="6" r="2"/><path d="M4.500 10.500L8.500 7.500M11.500 7.500L15.500 10.500M18.500 10.500L22.500 7.500"/>';
S(583,120,28,18,wave);S(621,120,28,18,wave);
T(579,108.5,'1',{size:9,weight:700});T(594,108.5,'5',{size:9,weight:700});T(618,108.5,'A',{size:9,weight:700});T(632,108.5,'C',{size:9,weight:700});
// left tools
S(26,105,22,22,'<circle cx="3" cy="19" r="2"/><circle cx="19" cy="3" r="2"/><path d="M4.500 17.500L17.500 4.500"/>');
S(26,144,26,22,'<path d="M1 3h18M1 10h18M6 17h18"/><circle cx="22" cy="10" r="2"/><circle cx="3" cy="18" r="2"/>');
S(26,181,24,24,'<circle cx="5" cy="3" r="2"/><circle cx="19" cy="3" r="2"/><circle cx="3" cy="21" r="2"/><circle cx="21" cy="19" r="2"/><path d="M5 5L3 19M6 5L20 18M18 5L5 20M18 4L21 17"/>');
S(26,219,24,22,'<path d="M6 3h16M6 19h16M11 9v7h4"/><circle cx="3" cy="3" r="2"/><circle cx="3" cy="19" r="2"/>');
S(26,257,24,20,'<path d="M1 18L5 8c3-3 7-1 9 2 2 4-2 8-4 8ZM14 7l2 3 7-8"/>');
S(26,295,18,20,'<path d="M1 1h16M9 1v18M6 19h6"/>');
S(26,333,22,22,'<circle cx="11" cy="11" r="10"/><circle cx="7.500" cy="8.500" r=".7"/><circle cx="14.500" cy="8.500" r=".7"/><path d="M6 13c2 4 8 4 10 0"/>');
S(26,384,22,22,'<path d="M1 16L16 1l5 5L6 21ZM5 12l2 2M8 9l3 3M11 6l2 2M14 3l2 2"/>');
S(26,421,22,22,'<circle cx="9.500" cy="9.500" r="8.500"/><path d="M16 16l5 5M9.500 6v7M6 9.500h7"/>');
B(8,447,36,1,'background:#ebebeb');
S(26,472,20,20,'<path d="M1 15V9a9 9 0 0 1 18 0v6M7 15V9a3 3 0 0 1 6 0v6M1 15h6v4H1ZM13 15h6v4h-6Z"/>');
S(26,511,26,22,'<path d="M2 19l2-6L14 3l4 4L8 17Z"/><rect x="16" y="15" width="9" height="6" rx="1"/><path d="M18 15v-2a2.500 2.500 0 0 1 5 0"/>');
S(26,548,22,22,'<rect x="3" y="9" width="16" height="12" rx="2"/><path d="M6 9V6a4 4 0 0 1 8 0"/><circle cx="11" cy="15" r="1" fill="#131722"/>');
S(26,587,26,16,'<path d="M1 8c5-9 19-9 24 0-5 9-19 9-24 0Z"/><circle cx="13" cy="8" r="4"/>');
S(26,625,22,20,'<path d="M9 15l8-8a3 3 0 0 0-4-4L3 13a3.500 3.500 0 0 0 5 5l4-4M17 11l-4 5"/>',1.1,'#5b5f68');
B(8,650,36,1,'background:#ebebeb');
S(26,676,20,20,'<path d="M1 4h18M7 4V2h6v2M3 4l2 15h10l2-15"/>');
B(9,1025,34,33,'background:#2a2a2a;border-radius:6px');
S(26,1041,20,20,'<path d="M10 1l3 6 6 1-4.500 4.500 1 6.500L10 16l-5.500 3 1-6.500L1 8l6-1Z"/>',1.2,'#fff');
// right tools
S(1058,66,18,24,'<path d="M1 1h16v22l-8-3-8 3ZM4 6h10M4 10h10M4 14h10"/>');
S(1058,110,26,26,'<circle cx="13" cy="14" r="10"/><path d="M13 8v6h-5M2 6l4-4M24 6l-4-4"/>');
S(1058,158,24,22,'<path d="M12 1l11 6-11 6L1 7ZM1 12l11 7 11-7"/>');
S(1058,205,26,24,'<path d="M1 3h18v15H12l-5 3v-3H1ZM19 8h5v15l-6-4"/>');
B(1060,185,16,16,'border-radius:50%;background:#f23645');T(1068,193.5,'1',{size:10.5,color:'#fff'});
S(1058,772,28,28,'<circle cx="14" cy="14" r="13"/><circle cx="14" cy="14" r="8"/><circle cx="14" cy="14" r="2.500" fill="#131722"/><path d="M14 14L23 6"/>');
S(1058,815,26,26,'<path d="M1 24L9 12l4 3 5-3 7 12ZM9 12l4-9 5 9-5 3Z"/>');
S(1058,860,24,24,'<rect x="1" y="3" width="22" height="20" rx="3"/><path d="M1 8h22"/><rect x="5" y="1" width="3" height="5"/><rect x="16" y="1" width="3" height="5"/>');
S(1058,909,22,16,'<circle cx="3" cy="13" r="1.500"/><path d="M1 7a8 8 0 0 1 8 8M1 2a14 14 0 0 1 13 13M7 1a14 14 0 0 1 12 14"/>');
B(1047,888,29,16,'border-radius:8px;background:#f23645');T(1061.5,896,'99+',{size:11,color:'#fff'});
S(1058,955,24,24,'<path d="M1 20h22M4 20V12a8 8 0 0 1 16 0v8M9 23h6"/>');
B(1055,934,21,16,'border-radius:8px;background:#f23645');T(1065.5,942,'59',{size:11,color:'#fff'});
B(1041,981,34,34,'border-radius:50%;background:#2a2a2a');
S(1058,998,18,18,'<g fill="#fff" stroke="none"><rect x="1" y="1" width="4" height="4"/><rect x="7" y="1" width="4" height="4"/><rect x="13" y="1" width="4" height="4"/><rect x="1" y="7" width="4" height="4"/><rect x="7" y="7" width="4" height="4"/><rect x="13" y="7" width="4" height="4"/><rect x="1" y="13" width="4" height="4"/><rect x="7" y="13" width="4" height="4"/><rect x="13" y="13" width="4" height="4"/></g>');
B(1041,1030,34,1,'background:#ebebeb');
S(1058,1056,28,28,'<circle cx="14" cy="14" r="13"/><path d="M10 11a4 4 0 1 1 6 3.500c-1.500.8-2 1.500-2 3"/><circle cx="14" cy="21" r=".6"/>');
// tv logo
B(67,982,35,21,'background:#fff');
S(84,992.5,32,16,'<path d="M1 1h11v13H6V6H1ZM14 1a2.500 2.500 0 1 1 0 5 2.500 2.500 0 0 1 0-5ZM24 1h7L24 15h-7Z" fill="#000" stroke="none"/>');
// bottom bar
[[79,'1D'],[109,'5D'],[140,'1M'],[172,'3M'],[204,'6M'],[239,'YTD'],[272,'All']].forEach(a=>T(a[0],1061,a[1],{size:13.5}));
B(291,1050,1,22,'background:#ebebeb');
S(315,1061,20,20,'<path d="M3 10V4h15v15H6M1 15h8M6 12l3 3-3 3M7 1v4M14 1v4M3 7h15"/>');
T(924,1061,'15:38:56 UTC+8',{size:13.5});B(983,1050,1,22,'background:#ebebeb');T(1008,1061,'ADJ',{size:13.5});
S(995,1027,16,14,'<path d="M4 1h8l3.500 6L12 13H4L.5 7Z"/><circle cx="8" cy="7" r="2.500"/>');
</script></body></html>
